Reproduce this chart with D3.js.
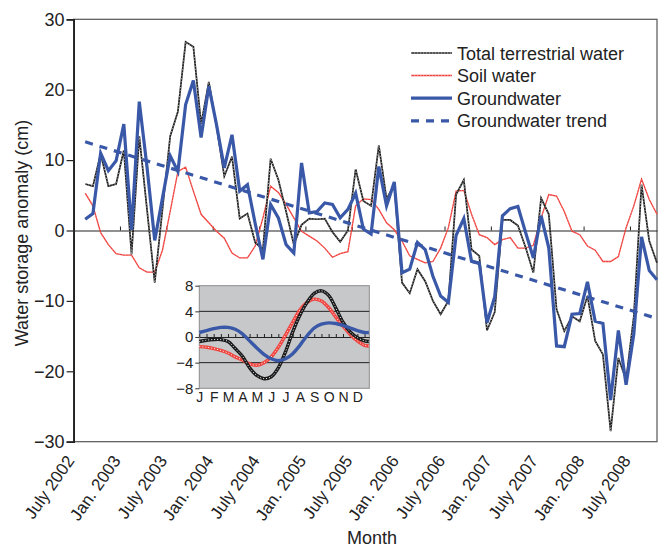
<!DOCTYPE html>
<html>
<head>
<meta charset="utf-8">
<script src="https://cdn.jsdelivr.net/npm/d3@7"></script>
<style>
  body { margin: 0; background: #fff; }
  svg { display: block; font-family: "Liberation Sans", Arial, sans-serif; }
</style>
</head>
<body>
<svg width="664" height="548"></svg>
<script>
// month index counted from July 2002 (= 0); data run Aug 2002 .. Oct 2008
var months = d3.range(1, 76);

// total terrestrial water (cm), null = no GRACE month (June 2003)
var totalWater = [6.6, 6.3, 10.9, 6.3, 6.6, 11.4, -3.4, 13.4, 3.0, -7.4,
  null, 13.4, 16.9, 26.8, 26.1, 15.1, 21.1, 14.8, 7.7, 10.5,
  1.7, 2.4, -1.7, -2.7, 10.2, 7.2, 2.7, -2.0, 0.8, 1.7,
  1.6, 1.7, -0.2, -1.6, 0.0, 8.7, 4.2, 3.5, 12.1, 4.5,
  6.5, -7.4, -8.9, -5.5, -7.2, -10.0, -11.9, -10.0, 5.1, 7.2,
  -2.7, -3.6, -14.2, -11.6, 1.5, 1.5, 0.7, -2.4, -6.0, 4.6,
  2.3, -11.2, -14.3, -12.2, -12.9, -9.3, -15.7, -17.6, -28.5, -18.1,
  -21.2, -12.2, 6.5, -1.5, -4.6];

var soilWater = [5.3, 3.5, -0.3, -2.0, -3.3, -3.5, -3.5, -5.3, -5.9, -5.9,
  -2.8, 2.7, 8.4, 9.0, 5.6, 2.3, 1.1, -0.1, -1.1, -3.2,
  -3.9, -3.9, -2.2, 1.8, 6.3, 5.4, 3.7, 1.8, -0.1, -0.8,
  -1.5, -2.5, -3.8, -3.3, -3.0, 3.5, 4.5, 4.4, 3.0, 1.1,
  0.1, -1.5, -3.6, -4.1, -4.6, -4.4, -2.5, 0.4, 5.6, 5.7,
  2.3, -0.6, -1.0, -2.0, -1.3, -1.0, -2.5, -2.5, -2.1, 1.8,
  5.1, 4.9, 2.7, -0.1, -0.6, -2.2, -2.8, -4.4, -4.4, -3.7,
  0.4, 3.5, 7.3, 4.4, 2.3];

var groundWater = [1.6, 2.4, 11.0, 8.5, 9.9, 15.1, 0.1, 18.3, 9.0, -1.4,
  null, 10.6, 8.4, 17.9, 21.3, 13.2, 20.5, 15.0, 8.9, 13.6,
  5.6, 6.5, 1.0, -4.1, 3.7, 1.8, -2.0, -3.2, 9.6, 2.5,
  2.7, 3.9, 3.7, 1.8, 3.0, 5.3, 0.2, -0.5, 9.1, 3.5,
  6.9, -6.0, -5.5, -1.7, -2.7, -6.5, -9.3, -10.2, -0.7, 1.7,
  -4.4, -4.6, -13.1, -9.4, 2.1, 3.1, 3.4, -0.3, -3.9, 2.1,
  -2.5, -16.4, -16.5, -11.9, -11.8, -7.3, -12.9, -13.2, -24.1, -14.2,
  -21.9, -14.7, -0.9, -5.7, -7.0];

// groundwater trend, first and last month
var trendMonths = [1, 75];
var trendValues = [12.6, -12.5];

var tickMonths = [0, 6, 12, 18, 24, 30, 36, 42, 48, 54, 60, 66, 72];
var tickLabels = ["July 2002", "Jan. 2003", "July 2003", "Jan. 2004", "July 2004",
  "Jan. 2005", "July 2005", "Jan. 2006", "July 2006", "Jan. 2007", "July 2007",
  "Jan. 2008", "July 2008"];

// inset: mean seasonal cycle, sampled every half month
var insetPos = [0, 0.5, 1, 1.5, 2, 2.5, 3, 3.5, 4, 4.5, 5, 5.5, 6, 6.5, 7, 7.5,
  8, 8.5, 9, 9.5, 10, 10.5, 11, 11.5, 11.8];
var insetTotal = [-0.7, -0.5, -0.4, -0.4, -0.7, -1.8, -3.0, -4.8, -6.0, -6.5,
  -6.2, -4.8, -2.3, 0.8, 3.4, 5.4, 6.8, 7.2, 6.5, 4.5, 2.3, 0.8, -0.1, -0.6, -0.7];
var insetSoil = [-1.5, -1.6, -1.8, -2.1, -2.5, -3.1, -3.6, -4.2, -4.4, -4.0,
  -3.1, -1.6, 0.3, 2.3, 4.2, 5.4, 5.9, 5.6, 4.6, 3.1, 1.7, 0.4, -0.6, -1.3, -1.4];
var insetGround = [0.7, 1.0, 1.3, 1.5, 1.5, 1.2, 0.5, -0.6, -1.7, -2.7,
  -3.4, -3.7, -3.4, -2.6, -1.3, 0.2, 1.4, 2.0, 2.2, 2.1, 1.8, 1.4, 1.0, 0.7, 0.7];
var insetMonths = ["J", "F", "M", "A", "M", "J", "J", "A", "S", "O", "N", "D"];

var blue = "#3a58a8", red = "#ef3b36", black = "#1a1a1a";

var svg = d3.select("svg");

var x = d3.scaleLinear().domain([0, 75.5]).range([73.6, 657]);
var y = d3.scaleLinear().domain([-30, 30]).range([441.7, 19.3]);

// frame
svg.append("rect")
  .attr("x", x(0)).attr("y", y(30))
  .attr("width", x(75.5) - x(0)).attr("height", y(-30) - y(30))
  .attr("fill", "none").attr("stroke", "#555").attr("stroke-width", 1.2);

// y axis
var yAxis = svg.append("g")
  .attr("transform", "translate(" + x(0) + ",0)")
  .call(d3.axisLeft(y).tickValues([-30, -20, -10, 0, 10, 20, 30]).tickSize(7).tickPadding(2));
yAxis.select(".domain").attr("stroke", "#222").attr("stroke-width", 1.8);
yAxis.selectAll(".tick line").attr("stroke", "#222").attr("stroke-width", 1.2);
yAxis.selectAll("text").attr("font-size", 18).attr("fill", "#222")
  .attr("font-family", "Liberation Sans, Arial, sans-serif");

// x labels under the plot
var xAxis = svg.append("g")
  .attr("transform", "translate(0," + y(-30) + ")")
  .call(d3.axisBottom(x).tickValues(tickMonths).tickSize(0)
    .tickFormat(function (d, i) { return tickLabels[i]; }));
xAxis.select(".domain").remove();
xAxis.selectAll("text")
  .attr("x", 0).attr("y", 0).attr("dy", 0)
  .attr("text-anchor", "end")
  .attr("transform", "translate(1,19) rotate(-55)")
  .attr("font-size", 17).attr("fill", "#222")
  .attr("font-family", "Liberation Sans, Arial, sans-serif");

// zero line with small ticks
var zeroAxis = svg.append("g")
  .attr("transform", "translate(0," + y(0) + ")")
  .call(d3.axisTop(x).tickValues(tickMonths.slice(1)).tickSize(4).tickSizeOuter(0).tickFormat(""));
zeroAxis.select(".domain").attr("stroke", "#222").attr("stroke-width", 1.2);
zeroAxis.selectAll(".tick line").attr("stroke", "#222");

// axis titles
svg.append("text")
  .attr("transform", "translate(28,233) rotate(-90)")
  .attr("text-anchor", "middle").attr("font-size", 18).attr("fill", "#222")
  .text("Water storage anomaly (cm)");
svg.append("text")
  .attr("x", 372).attr("y", 544)
  .attr("text-anchor", "middle").attr("font-size", 18).attr("fill", "#222")
  .text("Month");

// series
function series(vals) {
  return months.map(function (m, i) { return { m: m, v: vals[i] }; })
    .filter(function (d) { return d.v !== null; });
}
var line = d3.line()
  .x(function (d) { return x(d.m + 0.5); })
  .y(function (d) { return y(d.v); });

var trendData = trendMonths.map(function (m, i) { return { m: m, v: trendValues[i] }; });

var plot = svg.append("g").attr("fill", "none");

plot.append("path").datum(series(soilWater)).attr("d", line)
  .attr("stroke", red).attr("stroke-width", 1.3);
plot.append("path").datum(series(soilWater)).attr("d", line)
  .attr("stroke", "#ffc4c4").attr("stroke-width", 0.5).attr("stroke-dasharray", "1,2");

plot.append("path").datum(series(totalWater)).attr("d", line)
  .attr("stroke", black).attr("stroke-width", 1.7);
plot.append("path").datum(series(totalWater)).attr("d", line)
  .attr("stroke", "#fff").attr("stroke-width", 0.6).attr("stroke-dasharray", "1.2,1.8");

plot.append("path").datum(series(groundWater)).attr("d", line)
  .attr("stroke", blue).attr("stroke-width", 3.2);

plot.append("path").datum(trendData).attr("d", line)
  .attr("stroke", blue).attr("stroke-width", 3.2).attr("stroke-dasharray", "8,7");

// legend
var legendItems = [
  { name: "Total terrestrial water", color: black, w: 1.7, dash: null, overlay: "#fff" },
  { name: "Soil water", color: red, w: 1.5, dash: null, overlay: "#ffc4c4" },
  { name: "Groundwater", color: blue, w: 3.2, dash: null, overlay: null },
  { name: "Groundwater trend", color: blue, w: 3.2, dash: "8,7", overlay: null }
];
var legend = svg.append("g").attr("transform", "translate(411,53)");
var li = legend.selectAll("g").data(legendItems).enter().append("g")
  .attr("transform", function (d, i) { return "translate(0," + (i * 22.6) + ")"; });
li.append("line").attr("x1", 0).attr("x2", 41)
  .attr("stroke", function (d) { return d.color; })
  .attr("stroke-width", function (d) { return d.w; })
  .attr("stroke-dasharray", function (d) { return d.dash; });
li.filter(function (d) { return d.overlay; }).append("line").attr("x1", 0).attr("x2", 41)
  .attr("stroke", function (d) { return d.overlay; })
  .attr("stroke-width", 0.6).attr("stroke-dasharray", "1.2,1.8");
li.append("text").attr("x", 46).attr("y", 6.5)
  .attr("font-size", 18).attr("fill", "#222")
  .text(function (d) { return d.name; });

// inset
var xi = d3.scaleLinear().domain([0, 11.83]).range([199.3, 369.3]);
var yi = d3.scaleLinear().domain([-8, 8]).range([388.3, 285.7]);
var inset = svg.append("g");

inset.append("rect")
  .attr("x", xi(0)).attr("y", yi(8))
  .attr("width", xi(11.83) - xi(0)).attr("height", yi(-8) - yi(8))
  .attr("fill", "#c7c8ca").attr("stroke", "#8c8c8c").attr("stroke-width", 1);

inset.selectAll("line.grid").data([4, -4]).enter().append("line")
  .attr("class", "grid")
  .attr("x1", xi(0)).attr("x2", xi(11.83))
  .attr("y1", function (d) { return yi(d); }).attr("y2", function (d) { return yi(d); })
  .attr("stroke", "#222").attr("stroke-width", 1);

var halfMonths = insetPos.slice(0, 24);
var iz = inset.append("g")
  .attr("transform", "translate(0," + yi(0) + ")")
  .call(d3.axisTop(xi).tickValues(halfMonths).tickSize(3).tickSizeOuter(0).tickFormat(""));
iz.select(".domain").attr("stroke", "#222");
iz.selectAll(".tick line").attr("stroke", "#222");

var iy = inset.append("g")
  .attr("transform", "translate(" + xi(0) + ",0)")
  .call(d3.axisLeft(yi).tickValues([-8, -4, 0, 4, 8]).tickSize(4).tickPadding(2));
iy.select(".domain").remove();
iy.selectAll(".tick line").attr("stroke", "#333");
iy.selectAll("text").attr("font-size", 15).attr("fill", "#222")
  .attr("font-family", "Liberation Sans, Arial, sans-serif");

var ix = inset.append("g")
  .attr("transform", "translate(0," + yi(-8) + ")")
  .call(d3.axisBottom(xi).tickValues(d3.range(12)).tickSize(0).tickPadding(4)
    .tickFormat(function (d) { return insetMonths[d]; }));
ix.select(".domain").remove();
ix.selectAll("text").attr("font-size", 14).attr("fill", "#222")
  .attr("font-family", "Liberation Sans, Arial, sans-serif");

var iline = d3.line()
  .x(function (d) { return xi(d.p); })
  .y(function (d) { return yi(d.v); })
  .curve(d3.curveCatmullRom);
function iseries(vals) {
  return insetPos.map(function (p, i) { return { p: p, v: vals[i] }; });
}
var ig = inset.append("g").attr("fill", "none");
ig.append("path").datum(iseries(insetSoil)).attr("d", iline)
  .attr("stroke", "#f0443f").attr("stroke-width", 3.4);
ig.append("path").datum(iseries(insetSoil)).attr("d", iline)
  .attr("stroke", "#fff").attr("stroke-width", 1).attr("stroke-dasharray", "1,2");
ig.append("path").datum(iseries(insetTotal)).attr("d", iline)
  .attr("stroke", black).attr("stroke-width", 3.4);
ig.append("path").datum(iseries(insetTotal)).attr("d", iline)
  .attr("stroke", "#fff").attr("stroke-width", 1).attr("stroke-dasharray", "1,2");
ig.append("path").datum(iseries(insetGround)).attr("d", iline)
  .attr("stroke", blue).attr("stroke-width", 3.4);
</script>
</body>
</html>
